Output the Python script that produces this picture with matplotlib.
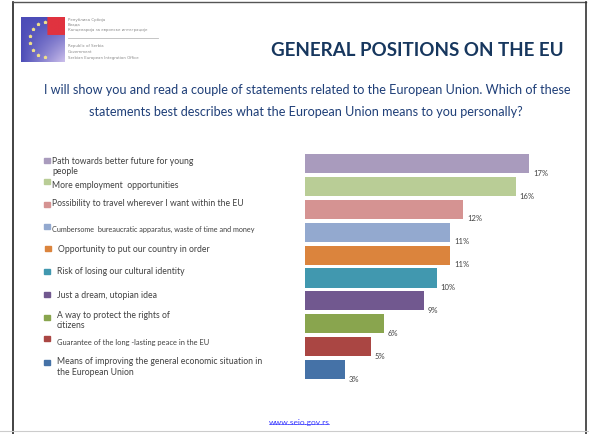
import matplotlib.pyplot as plt
import numpy as np
from matplotlib.lines import Line2D
from matplotlib.patches import Rectangle

plt.rcParams['font.family'] = ['Lato', 'DejaVu Sans']

# Survey answers, ordered from the most to the least frequent
statements = [
    "Path towards better future for young\npeople",
    "More employment  opportunities",
    "Possibility to travel wherever I want within the EU",
    "Cumbersome  bureaucratic apparatus, waste of time and money",
    "Opportunity to put our country in order",
    "Risk of losing our cultural identity",
    "Just a dream, utopian idea",
    "A way to protect the rights of\ncitizens",
    "Guarantee of the long -lasting peace in the EU",
    "Means of improving the general economic situation in\nthe European Union",
]
shares = [17, 16, 12, 11, 11, 10, 9, 6, 5, 3]
bar_colors = ["#A99BBD", "#B9CD96", "#D59392", "#93A9CF", "#DB843D",
              "#4198AF", "#71588F", "#89A54E", "#AA4643", "#4572A7"]

title = "GENERAL POSITIONS ON THE EU"
question = ["I will show you and read a couple of statements related to the European Union. Which of these",
            "statements best describes what the European Union means to you personally?"]
website = "www.seio.gov.rs"

W, H = 589, 434
fig = plt.figure(figsize=(W / 100, H / 100), dpi=100)


def fx(x):
    return x / W


def fy(y):
    return 1 - y / H


# slide frame
fig.add_artist(Line2D([fx(12.5), fx(12.5)], [fy(2), fy(434)], color="#222222", lw=1.2))
fig.add_artist(Line2D([fx(12.5), fx(586)], [fy(2), fy(2)], color="#555555", lw=1.0))
fig.add_artist(Line2D([fx(586), fx(586)], [fy(2), fy(434)], color="#333333", lw=1.2))
fig.add_artist(Line2D([0, 1], [fy(431), fy(431)], color="#cccccc", lw=0.8))

# logo: flag block
flag = fig.add_axes([fx(21), fy(62), fx(65) - fx(21), (62 - 17) / H])
gx, gy = np.meshgrid(np.linspace(0, 1, 60), np.linspace(0, 1, 60))
img = np.zeros((60, 60, 3))
img[..., 0] = 0.3 + 0.5 * gx * gy
img[..., 1] = 0.3 + 0.45 * gx * gy
img[..., 2] = 0.72 + 0.2 * gx * gy
red = (gy < 0.4) & (gx > 0.6)
img[red] = [0.88, 0.2, 0.25]
flag.imshow(np.clip(img, 0, 1), extent=[0, 1, 0, 1], aspect='auto', origin='upper')
ang = np.linspace(100, 260, 8) * np.pi / 180
flag.scatter(0.62 + 0.42 * np.cos(ang), 0.5 + 0.4 * np.sin(ang), s=3, marker='*', color="#f0e08a")
flag.set_xlim(0, 1)
flag.set_ylim(0, 1)
flag.axis('off')

logo_lines = [("Република Србија", 20), ("Влада", 25),
              ("Канцеларија за европске интеграције", 30),
              ("Republic of Serbia", 46), ("Government", 52),
              ("Serbian European Integration Office", 58)]
for txt, y in logo_lines:
    fig.text(fx(68), fy(y), txt, fontsize=2.8, color="#888888", va='center',
             family=['DejaVu Sans'])
fig.add_artist(Line2D([fx(68), fx(158)], [fy(38), fy(38)], color="#bbbbbb", lw=0.6))

# headings
fig.text(fx(417), fy(50), title, fontsize=13.5, fontweight='bold', color="#17375E",
         ha='center', va='center')
fig.text(fx(307.5), fy(90), question[0], fontsize=9.05, color="#1F3F78",
         ha='center', va='center')
fig.text(fx(306), fy(112), question[1], fontsize=9.05, color="#1F3F78",
         ha='center', va='center')

# legend column on the left
marker_y = [160.5, 181, 204.5, 227, 248.5, 271, 294.5, 317, 338.5, 362.5]
marker_x = [44, 44, 44, 44, 45, 44, 44, 44, 44, 44]
text_pos = [(52, 161), (52, 185), (52, 203), (52, 229), (58, 250),
            (57, 271), (57, 295), (57, 315), (57, 343), (57, 362)]
text_size = [6.2, 6.2, 6.2, 5.2, 6.2, 6.2, 6.2, 6.2, 5.4, 6.2]
for i, lab in enumerate(statements):
    fig.add_artist(Rectangle((fx(marker_x[i]), fy(marker_y[i] + 2.5)), 6 / W, 5 / H,
                             color=bar_colors[i], transform=fig.transFigure))
    tx, ty = text_pos[i]
    for k, line in enumerate(lab.split("\n")):
        fig.text(fx(tx), fy(ty + 10.5 * k), line, fontsize=text_size[i],
                 color="#404040", va='center', ha='left')

# bars
slot = 22.9
top = 163.5 - slot / 2
ax = fig.add_axes([fx(305), fy(top + slot * 10), 20 * 13.18 / W, slot * 10 / H])
y = np.arange(len(shares))
ax.barh(y, shares, height=0.83, color=bar_colors)
for i, v in enumerate(shares):
    ax.text(v + 0.3, i + 0.42, f"{v}%", fontsize=5.5, color="#404040",
            va='center', ha='left')
ax.set_xlim(0, 20)
ax.set_ylim(len(shares) - 0.5, -0.5)
ax.axis('off')

# footer link, underlined
link = fig.text(fx(299), fy(425), website, fontsize=6, color="#3a3aff",
                ha='center', va='baseline')
fig.canvas.draw()
bb = link.get_window_extent()
fig.add_artist(Line2D([bb.x0 / W, bb.x1 / W], [(bb.y0 + 2.5) / H, (bb.y0 + 2.5) / H],
                      color="#3a3aff", lw=0.5))

fig.savefig("out.png", dpi=100)
